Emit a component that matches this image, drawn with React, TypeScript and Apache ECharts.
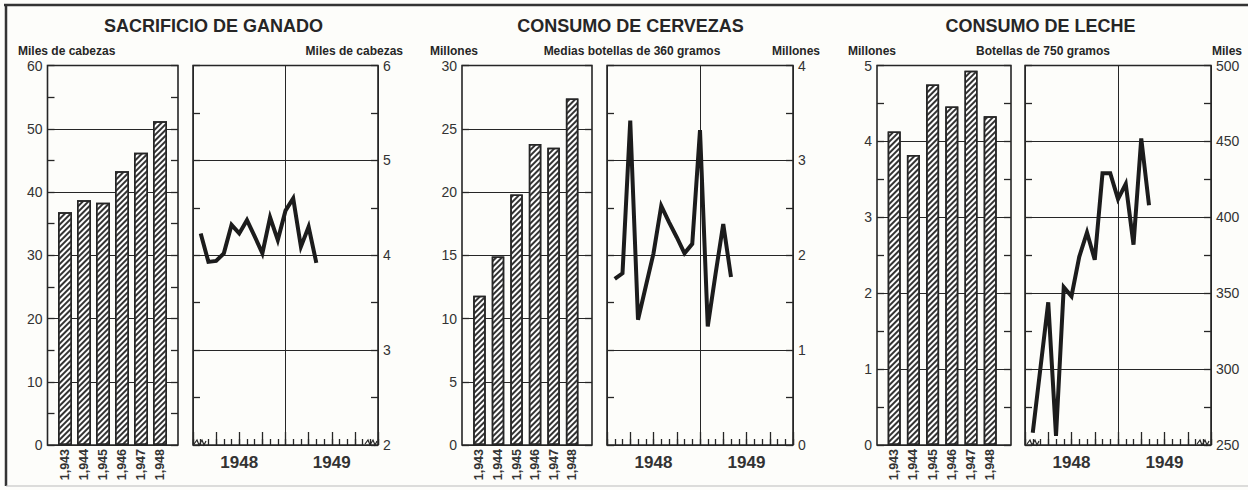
import React, { useEffect, useRef } from "react";
import * as echarts from "echarts";

// ---------- data ----------
const barYears = ["1,943", "1,944", "1,945", "1,946", "1,947", "1,948"];
const halfYears = ["1948", "1949"];

const ganadoBars = [36.8, 38.7, 38.3, 43.3, 46.2, 51.2];
const ganadoMonths = [1, 2, 3, 4, 5, 6, 7, 8, 9, 10, 11, 12, 13, 14, 15, 16];
const ganadoLine = [4.23, 3.93, 3.94, 4.02, 4.32, 4.23, 4.37, 4.2, 4.02, 4.4, 4.16, 4.47, 4.6, 4.09, 4.3, 3.92];

const cervezaBars = [11.8, 14.9, 19.8, 23.8, 23.5, 27.4];
const cervezaMonths = [1, 2, 3, 4, 5, 6, 7, 8, 9, 10, 11, 12, 13, 14, 15, 16];
const cervezaLine = [1.75, 1.81, 3.42, 1.32, 1.67, 2.02, 2.52, 2.35, 2.19, 2.02, 2.12, 3.32, 1.25, 1.8, 2.33, 1.77];

const lecheBars = [4.13, 3.82, 4.75, 4.46, 4.93, 4.33];
const lecheMonths = [1, 3, 4, 5, 6, 7, 8, 9, 10, 11, 12, 13, 14, 15, 16];
const lecheLine = [258, 344, 256, 354, 348, 374, 390, 372, 429, 429, 412, 422, 382, 452, 408];

const monthCats = ["E", "F", "M", "A", "M", "J", "J", "A", "S", "O", "N", "D", "E", "F", "M", "A", "M", "J", "J", "A", "S", "O", "N", "D"];
const quarterCats = ["I", "II", "III", "IV", "I", "II", "III", "IV"];

const titles = ["SACRIFICIO DE GANADO", "CONSUMO DE CERVEZAS", "CONSUMO DE LECHE"];

// ---------- style ----------
const FONT = "'Liberation Sans', Arial, sans-serif";
const INK = "#262626";
const TXT = "#333";
const TOP = 65.5;
const H = 379.5;

function buildOption() {
  const grids: any[] = [];
  const xAxes: any[] = [];
  const yAxes: any[] = [];
  const series: any[] = [];

  const tick = (len: number) => ({ show: true, inside: true, length: len, interval: 0, lineStyle: { color: INK, width: 1.3 } });

  function barPanel(
    frameL: number, frameW: number, barsL: number, barsW: number,
    min: number, max: number, interval: number, minor: boolean,
    values: number[], barWidth: number
  ) {
    const gf = grids.length;
    grids.push({ left: frameL, width: frameW, top: TOP, height: H, show: true, borderColor: INK, borderWidth: 1.6, backgroundColor: "transparent" });
    xAxes.push({ gridIndex: gf, type: "value", min: 0, max: 1, show: false });
    yAxes.push({
      gridIndex: gf, type: "value", min, max, interval, position: "left",
      axisLine: { show: false }, axisTick: tick(7),
      minorTick: { show: minor, splitNumber: 2, length: 7, lineStyle: { color: INK, width: 1.3 } },
      splitLine: { show: true, lineStyle: { color: INK, width: 1 } },
      axisLabel: { show: true, fontSize: 14, color: TXT, margin: 5, fontFamily: FONT },
    });
    yAxes.push({
      gridIndex: gf, type: "value", min, max, interval, position: "right",
      axisLine: { show: false }, axisTick: tick(7),
      minorTick: { show: minor, splitNumber: 2, length: 7, lineStyle: { color: INK, width: 1.3 } },
      splitLine: { show: false }, axisLabel: { show: false },
    });
    const gb = grids.length;
    grids.push({ left: barsL, width: barsW, top: TOP, height: H });
    const xi = xAxes.length;
    xAxes.push({
      gridIndex: gb, type: "category", data: barYears, position: "bottom",
      axisLine: { show: false }, axisTick: { show: false },
      axisLabel: { rotate: 90, interval: 0, fontSize: 12.5, fontWeight: "bold", color: TXT, margin: 4, fontFamily: FONT },
    });
    const yi = yAxes.length;
    yAxes.push({ gridIndex: gb, type: "value", min, max, show: false });
    series.push({
      type: "bar", xAxisIndex: xi, yAxisIndex: yi, data: values, barWidth,
      itemStyle: {
        color: "#fff", borderColor: INK, borderWidth: 1.5,
        decal: {
          symbol: "rect", symbolSize: 1, color: "#333", backgroundColor: "#fff",
          dashArrayX: [1, 0], dashArrayY: [1.3, 1.9], rotation: -Math.PI / 4,
        },
      },
    });
  }

  function linePanel(
    left: number, width: number, min: number, max: number, interval: number,
    months: number[], values: number[]
  ) {
    const g = grids.length;
    grids.push({ left, width, top: TOP, height: H, show: true, borderColor: INK, borderWidth: 1.6, backgroundColor: "transparent" });
    const xv = xAxes.length;
    xAxes.push({
      gridIndex: g, type: "value", min: 0, max: 24, position: "bottom", show: false,
    });
    // month ticks (short)
    xAxes.push({
      gridIndex: g, type: "category", data: monthCats, boundaryGap: true, position: "bottom",
      axisLine: { show: false }, axisLabel: { show: false }, splitLine: { show: false },
      axisTick: tick(6),
    });
    // quarter ticks (tall)
    xAxes.push({
      gridIndex: g, type: "category", data: quarterCats, boundaryGap: true, position: "bottom",
      axisLine: { show: false }, axisLabel: { show: false }, splitLine: { show: false },
      axisTick: tick(13),
    });
    xAxes.push({
      gridIndex: g, type: "category", data: halfYears, boundaryGap: true, position: "bottom",
      axisLine: { show: false }, axisTick: { show: false },
      splitLine: { show: true, interval: 0, lineStyle: { color: INK, width: 1 } },
      axisLabel: { fontSize: 17, color: TXT, margin: 9, fontFamily: FONT, fontWeight: "bold" },
    });
    yAxes.push({
      gridIndex: g, type: "value", min, max, interval, position: "left",
      axisLine: { show: false }, axisTick: tick(7),
      minorTick: { show: true, splitNumber: 2, length: 7, lineStyle: { color: INK, width: 1.3 } },
      splitLine: { show: false }, axisLabel: { show: false },
    });
    const yr = yAxes.length;
    yAxes.push({
      gridIndex: g, type: "value", min, max, interval, position: "right",
      axisLine: { show: false }, axisTick: tick(7),
      minorTick: { show: true, splitNumber: 2, length: 7, lineStyle: { color: INK, width: 1.3 } },
      splitLine: { show: true, lineStyle: { color: INK, width: 1 } },
      axisLabel: { show: true, fontSize: 14, color: TXT, margin: 5, fontFamily: FONT },
    });
    series.push({
      type: "line", xAxisIndex: xv, yAxisIndex: yr,
      data: months.map((m, i) => [m, values[i]]),
      showSymbol: false, symbol: "none",
      lineStyle: { color: "#1c1c1c", width: 4, join: "miter" },
    });
  }

  barPanel(47.5, 130.5, 55.5, 114, 0, 60, 10, true, ganadoBars, 14);
  linePanel(193, 185, 2, 6, 1, ganadoMonths, ganadoLine);
  barPanel(462, 130, 470.2, 111.2, 0, 30, 5, false, cervezaBars, 12.5);
  linePanel(607, 186, 0, 4, 1, cervezaMonths, cervezaLine);
  barPanel(877, 134, 884.6, 115.2, 0, 5, 1, true, lecheBars, 13);
  linePanel(1025, 186, 250, 500, 50, lecheMonths, lecheLine);

  const txt = (text: string, x: number, y: number, size: number, align: string, weight = "normal") => ({
    type: "text", x, y, z: 10,
    style: {
      text, fontSize: size, fontFamily: FONT, fontWeight: weight, fill: INK,
      align, verticalAlign: "middle", textAlign: align, textVerticalAlign: "middle",
    },
  });

  const squiggle = (x: number) => ({
    type: "polyline", z: 10,
    shape: { points: [[x, 444], [x + 3, 440], [x + 5, 445], [x + 8, 440], [x + 10, 445], [x + 12, 441]] },
    style: { stroke: INK, lineWidth: 1.2, fill: null },
  });

  const graphic: any[] = [
    { type: "line", shape: { x1: 4, y1: 5, x2: 1248, y2: 5 }, style: { stroke: "#333", lineWidth: 2.5 } },
    { type: "line", shape: { x1: 6, y1: 4, x2: 6, y2: 486 }, style: { stroke: "#333", lineWidth: 2.5 } },
    { type: "line", shape: { x1: 6, y1: 486, x2: 1248, y2: 486 }, style: { stroke: "#bbb", lineWidth: 1 } },
    txt(titles[0], 213.5, 26, 18, "center", "bold"),
    txt(titles[1], 630.5, 26, 18, "center", "bold"),
    txt(titles[2], 1040.5, 26, 18, "center", "bold"),
    txt("Miles de cabezas", 18, 51, 12, "left", "bold"),
    txt("Miles de cabezas", 403, 51, 12, "right", "bold"),
    txt("Millones", 430, 51, 12, "left", "bold"),
    txt("Medias botellas de 360 gramos", 632, 51, 12, "center", "bold"),
    txt("Millones", 820, 51, 12, "right", "bold"),
    txt("Millones", 848, 51, 12, "left", "bold"),
    txt("Botellas de 750 gramos", 1043, 51, 12, "center", "bold"),
    txt("Miles", 1242, 51, 12, "right", "bold"),
    squiggle(194), squiggle(365),
    squiggle(1027), squiggle(1197),
  ];

  return {
    animation: false,
    backgroundColor: "#fdfdfa",
    grid: grids,
    xAxis: xAxes,
    yAxis: yAxes,
    series,
    graphic,
  };
}

export default function App() {
  const ref = useRef<HTMLDivElement>(null);
  useEffect(() => {
    document.body.style.margin = "0";
    if (!ref.current) return;
    const chart = echarts.init(ref.current, undefined, { renderer: "svg" });
    chart.setOption(buildOption() as any);
    return () => chart.dispose();
  }, []);
  return <div ref={ref} style={{ width: 1248, height: 490 }} />;
}
